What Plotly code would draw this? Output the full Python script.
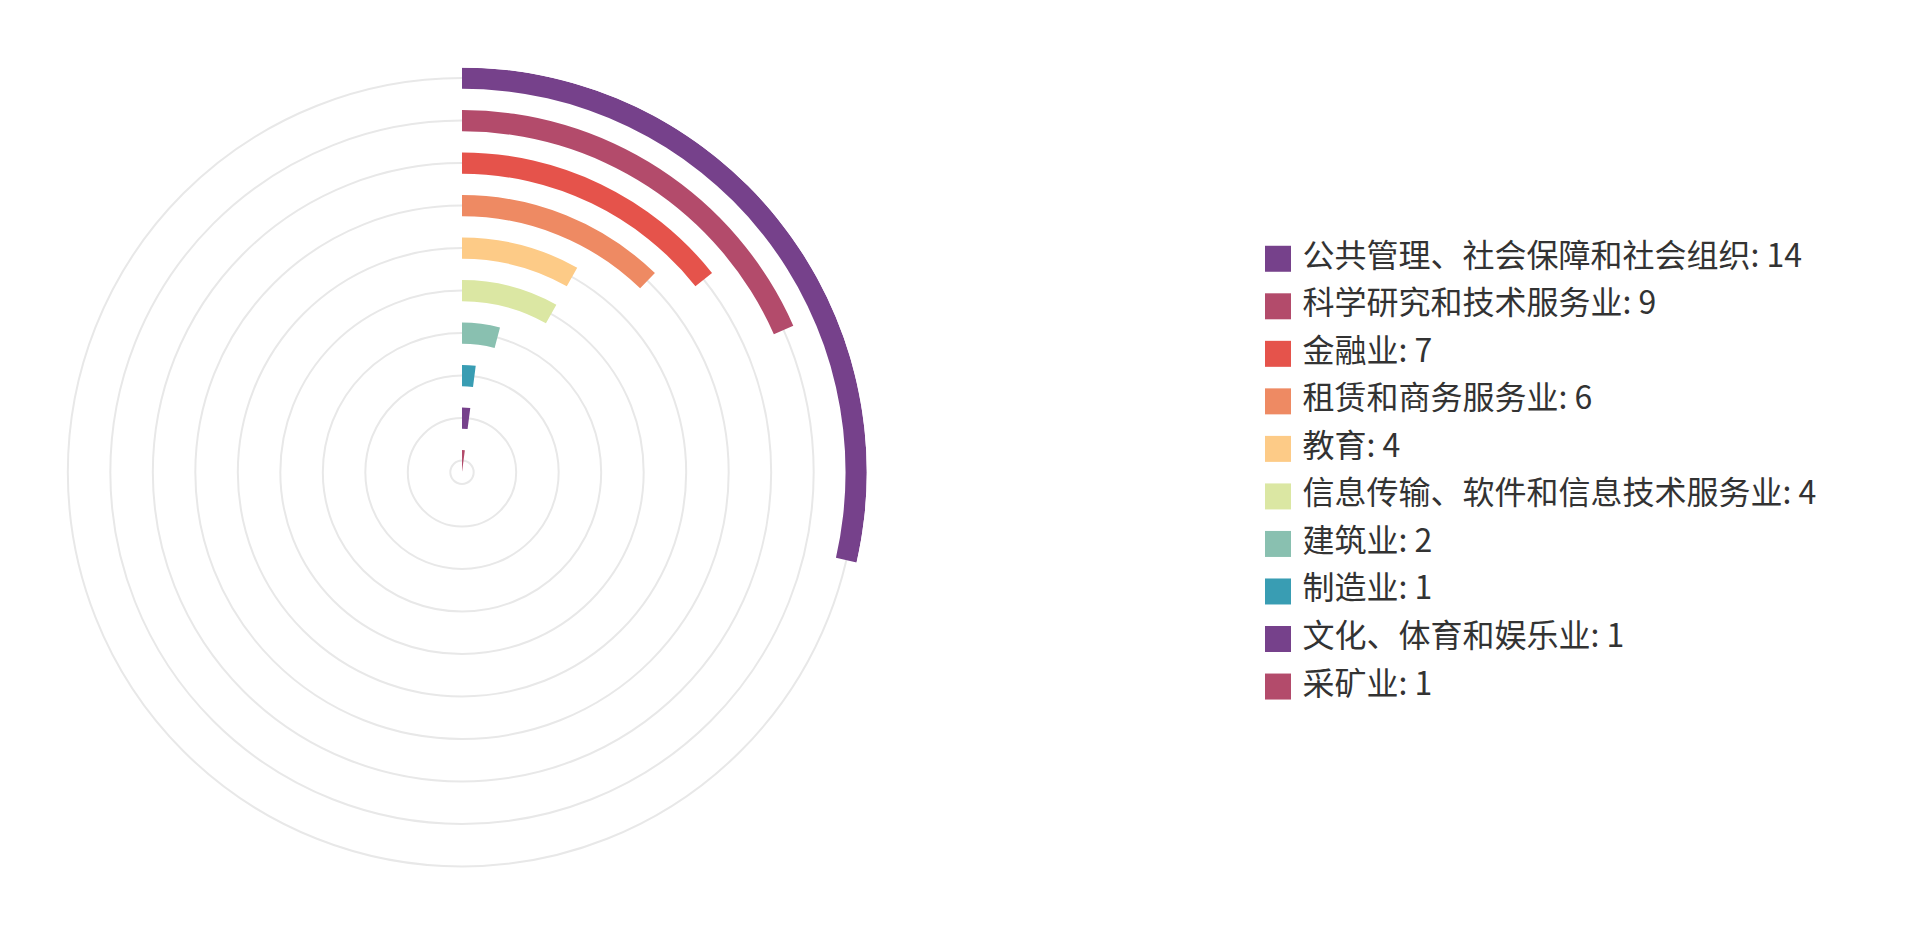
import plotly.graph_objects as go

# ================================
# Data
# ================================
categories = [
    "公共管理、社会保障和社会组织",
    "科学研究和技术服务业",
    "金融业",
    "租赁和商务服务业",
    "教育",
    "信息传输、软件和信息技术服务业",
    "建筑业",
    "制造业",
    "文化、体育和娱乐业",
    "采矿业",
]
values = [14, 9, 7, 6, 4, 4, 2, 1, 1, 1]

colors = [
    "#76418b", "#b34b6b", "#e5534b", "#ee8a63", "#fdcb87",
    "#dbe7a3", "#89c0b0", "#399db3", "#76418b", "#b34b6b",
]

# ================================
# Radial bars (one ring per category, outermost first)
# ================================
total = sum(values)
n = len(categories)
ring_pos = [n - 1 - i + 0.275 for i in range(n)]   # ring centre on radial axis
thickness = 0.5
deg = [v * 360 / total for v in values]          # full circle = sum of values

fig = go.Figure()

fig.add_trace(go.Barpolar(
    r=[thickness] * n,
    base=[p - thickness / 2 for p in ring_pos],
    theta=[d / 2 for d in deg],
    width=deg,
    marker=dict(color=colors, line=dict(width=0)),
    hovertext=[f"{c}: {v}" for c, v in zip(categories, values)],
    hoverinfo="text",
    showlegend=False,
))

# ================================
# Legend drawn as a marker + text column
# ================================
labels = [f" {c}: {v}" for c, v in zip(categories, values)]
fig.add_trace(go.Scatter(
    x=[0] * n,
    y=categories,
    mode="markers+text",
    marker=dict(symbol="square", size=26, color=colors, line=dict(width=0)),
    text=labels,
    textposition="middle right",
    textfont=dict(family="Noto Sans CJK SC", size=32, color="#333333"),
    cliponaxis=False,
    hoverinfo="skip",
    showlegend=False,
))

# page body has an 8px margin, domains below already account for it
fig.update_layout(
    width=1920,
    height=949,
    margin=dict(l=0, r=0, t=0, b=0),
    paper_bgcolor="white",
    plot_bgcolor="white",
    showlegend=False,
    polar=dict(
        domain=dict(x=[0.025625, 0.447292], y=[0.084194, 0.937302]),
        bgcolor="white",
        radialaxis=dict(
            range=[0, n - 1 + 0.275 + thickness / 2],
            tickvals=ring_pos,
            showticklabels=False,
            ticks="",
            showline=False,
            showgrid=True,
            gridcolor="#e8e8e8",
            gridwidth=2,
        ),
        angularaxis=dict(
            rotation=90,
            direction="clockwise",
            showgrid=False,
            showticklabels=False,
            ticks="",
            showline=False,
        ),
    ),
    xaxis=dict(domain=[0.609375, 0.713542], range=[-1, 1], visible=False),
    yaxis=dict(domain=[0.259958, 0.760801], range=[n - 0.5, -0.5], type="category", visible=False),
)

fig.write_html("out.html")
